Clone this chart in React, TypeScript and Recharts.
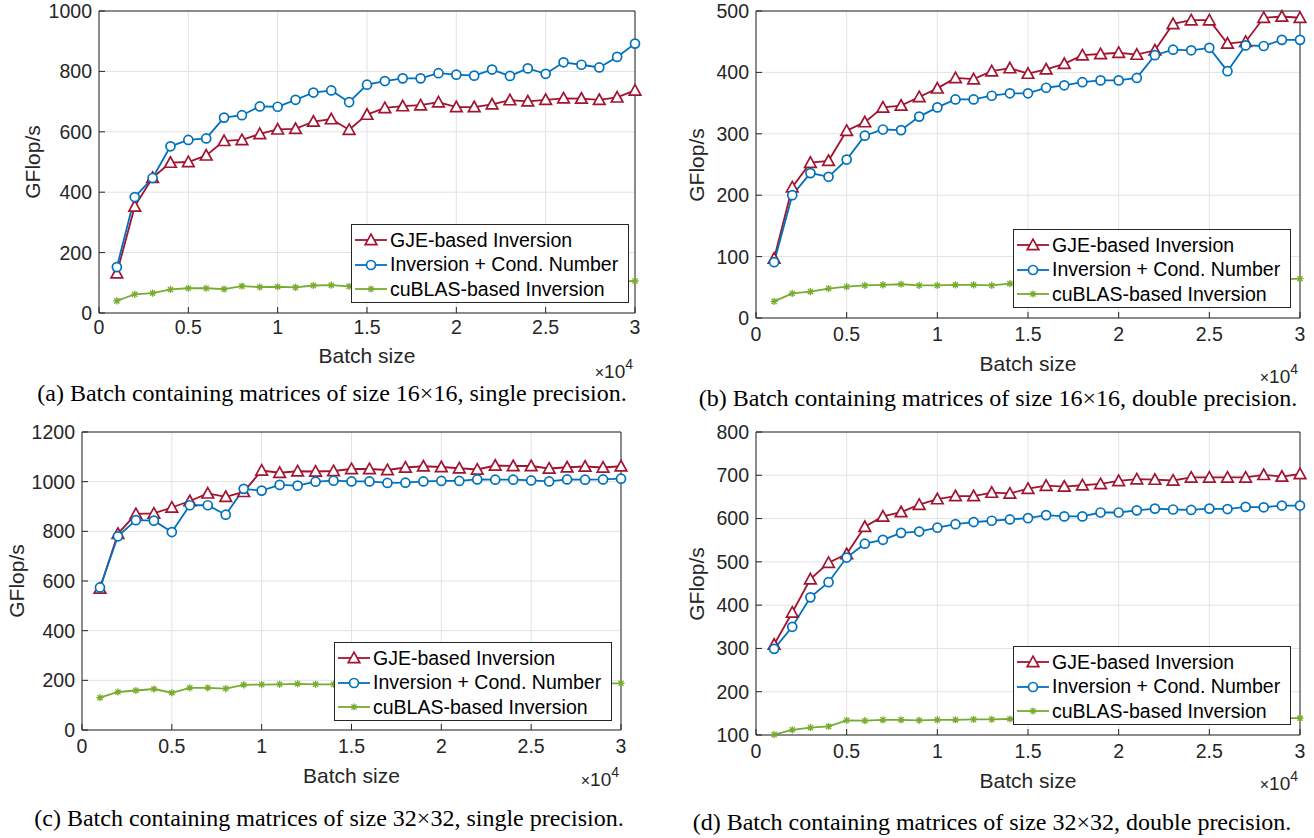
import React from 'react';
import { LineChart, Line, XAxis, YAxis, CartesianGrid, Legend } from 'recharts';

// ---------- data ----------
const batchSizes = [
  1000, 2000, 3000, 4000, 5000, 6000, 7000, 8000, 9000, 10000,
  11000, 12000, 13000, 14000, 15000, 16000, 17000, 18000, 19000, 20000,
  21000, 22000, 23000, 24000, 25000, 26000, 27000, 28000, 29000, 30000,
];
const xTicks = [0, 5000, 10000, 15000, 20000, 25000, 30000];

// (a) 16x16 single
const gjeA = [132, 353, 448, 498, 500, 522, 570, 573, 593, 608, 610, 634, 642, 607, 657, 679, 685, 688, 698, 682, 682, 691, 705, 701, 706, 711, 710, 706, 714, 737];
const condA = [152, 384, 447, 552, 573, 578, 647, 655, 684, 683, 706, 730, 737, 698, 756, 768, 777, 777, 794, 789, 786, 806, 785, 810, 792, 830, 822, 813, 848, 892];
const cublasA = [40, 62, 66, 78, 82, 82, 79, 89, 86, 87, 85, 91, 92, 88, 90, 91, 92, 93, 93, 94, 95, 96, 97, 98, 99, 100, 101, 102, 103, 106];
const yTicksA = [0, 200, 400, 600, 800, 1000];

// (b) 16x16 double
const gjeB = [97, 213, 253, 256, 305, 319, 343, 346, 360, 374, 391, 389, 402, 407, 398, 405, 414, 428, 430, 432, 429, 436, 479, 485, 485, 447, 450, 489, 491, 489];
const condB = [91, 200, 236, 230, 258, 297, 307, 306, 328, 343, 356, 356, 362, 366, 366, 375, 379, 384, 387, 387, 391, 428, 437, 436, 440, 402, 444, 443, 453, 453];
const cublasB = [27, 40, 43, 48, 51, 53, 54, 55, 53, 53, 54, 54, 53, 56, 56, 57, 57, 58, 58, 59, 59, 60, 60, 61, 61, 62, 62, 63, 63, 64];
const yTicksB = [0, 100, 200, 300, 400, 500];

// (c) 32x32 single
const gjeC = [570, 790, 870, 872, 896, 922, 953, 939, 959, 1045, 1036, 1042, 1041, 1043, 1051, 1051, 1047, 1057, 1062, 1059, 1054, 1049, 1065, 1063, 1063, 1053, 1058, 1061, 1057, 1062];
const condC = [574, 780, 845, 843, 797, 905, 905, 867, 971, 964, 987, 984, 1000, 1004, 1001, 1001, 995, 996, 1001, 1003, 1003, 1009, 1008, 1008, 1005, 1001, 1009, 1008, 1009, 1012];
const cublasC = [130, 153, 159, 165, 150, 170, 170, 167, 182, 183, 184, 186, 184, 184, 185, 185, 186, 186, 186, 187, 187, 187, 187, 188, 188, 188, 188, 188, 188, 188];
const yTicksC = [0, 200, 400, 600, 800, 1000, 1200];

// (d) 32x32 double
const gjeD = [309, 383, 460, 498, 518, 581, 605, 615, 632, 645, 652, 652, 660, 658, 669, 676, 674, 677, 680, 687, 691, 690, 688, 695, 695, 695, 695, 701, 697, 703];
const condD = [299, 350, 418, 453, 510, 542, 551, 567, 570, 579, 587, 592, 595, 598, 601, 608, 605, 605, 614, 614, 619, 623, 621, 620, 623, 622, 627, 626, 630, 630];
const cublasD = [101, 112, 117, 120, 134, 133, 135, 135, 134, 135, 135, 136, 136, 137, 137, 137, 137, 138, 138, 138, 138, 138, 138, 139, 139, 139, 139, 139, 139, 139];
const yTicksD = [100, 200, 300, 400, 500, 600, 700, 800];

const seriesNames = ['GJE-based Inversion', 'Inversion + Cond. Number', 'cuBLAS-based Inversion'];
const captions = [
  '(a) Batch containing matrices of size 16\u00d716, single precision.',
  '(b) Batch containing matrices of size 16\u00d716, double precision.',
  '(c) Batch containing matrices of size 32\u00d732, single precision.',
  '(d) Batch containing matrices of size 32\u00d732, double precision.',
];
const yAxisTitle = 'GFlop/s';
const xAxisTitle = 'Batch size';

// ---------- styles ----------
const W = 1314;
const H = 838;
const YW = 60;
const XH = 40;
const AX = '#262626';
const GRID = '#e2e2e2';
const SANS = 'Liberation Sans, Arial, Helvetica, sans-serif';
const SERIF = 'Liberation Serif, Times New Roman, serif';
const COLORS = { gje: '#A2142F', cond: '#0072BD', cublas: '#77AC30' };
const LW = 278;
const LH = 79;

const panels = [
  { g: gjeA, c: condA, u: cublasA, yTicks: yTicksA, caption: captions[0],
    plot: { l: 99, t: 11, r: 635, b: 313 }, legend: { l: 351, t: 224 },
    yLabelX: 32, xLabelY: 355, xTickGap: 14, capX: 332, capY: 393, expY: 372 },
  { g: gjeB, c: condB, u: cublasB, yTicks: yTicksB, caption: captions[1],
    plot: { l: 756, t: 11, r: 1300, b: 318 }, legend: { l: 1013, t: 229 },
    yLabelX: 696, xLabelY: 363, xTickGap: 16, capX: 998, capY: 398, expY: 377 },
  { g: gjeC, c: condC, u: cublasC, yTicks: yTicksC, caption: captions[2],
    plot: { l: 82, t: 432, r: 621, b: 730 }, legend: { l: 334, t: 642 },
    yLabelX: 16, xLabelY: 775, xTickGap: 16, capX: 329, capY: 818, expY: 780 },
  { g: gjeD, c: condD, u: cublasD, yTicks: yTicksD, caption: captions[3],
    plot: { l: 756, t: 432, r: 1300, b: 735 }, legend: { l: 1013, t: 646 },
    yLabelX: 696, xLabelY: 780, xTickGap: 16, capX: 992, capY: 822, expY: 784 },
];

// ---------- markers ----------
const triPath = (cx: number, cy: number) => {
  const s = 5.8;
  return `M${cx},${cy - s} L${cx + s},${cy + s * 0.8} L${cx - s},${cy + s * 0.8} Z`;
};
const starPath = (cx: number, cy: number) => {
  const s = 3.6;
  const k = 2.6;
  return `M${cx - s},${cy} L${cx + s},${cy} M${cx},${cy - s} L${cx},${cy + s} M${cx - k},${cy - k} L${cx + k},${cy + k} M${cx - k},${cy + k} L${cx + k},${cy - k}`;
};

const TriDot = (props: any) => {
  const { cx, cy, index } = props;
  if (cx == null || cy == null) return <g key={`t${index}`} />;
  return <path key={`t${index}`} d={triPath(cx, cy)} fill="#fff" stroke={COLORS.gje} strokeWidth={1.7} />;
};
const CircDot = (props: any) => {
  const { cx, cy, index } = props;
  if (cx == null || cy == null) return <g key={`c${index}`} />;
  return <circle key={`c${index}`} cx={cx} cy={cy} r={4.5} fill="#fff" stroke={COLORS.cond} strokeWidth={1.7} />;
};
const StarDot = (props: any) => {
  const { cx, cy, index } = props;
  if (cx == null || cy == null) return <g key={`s${index}`} />;
  return <path key={`s${index}`} d={starPath(cx, cy)} fill="none" stroke={COLORS.cublas} strokeWidth={1.3} />;
};

const legendItems = [
  { name: seriesNames[0], color: COLORS.gje, kind: 'tri' },
  { name: seriesNames[1], color: COLORS.cond, kind: 'circ' },
  { name: seriesNames[2], color: COLORS.cublas, kind: 'star' },
];

const LegendBox = () => (
  <div
    style={{
      width: LW,
      height: LH,
      boxSizing: 'border-box',
      border: `1px solid ${AX}`,
      background: '#fff',
      paddingTop: 3,
    }}
  >
    {legendItems.map((it) => (
      <div key={it.name} style={{ display: 'flex', alignItems: 'center', height: 24.5 }}>
        <svg width={38} height={16} style={{ flex: 'none' }}>
          <line x1={3} x2={35} y1={8} y2={8} stroke={it.color} strokeWidth={1.8} />
          {it.kind === 'tri' && <path d={triPath(19, 8)} fill="#fff" stroke={it.color} strokeWidth={1.7} />}
          {it.kind === 'circ' && <circle cx={19} cy={8} r={4.5} fill="#fff" stroke={it.color} strokeWidth={1.7} />}
          {it.kind === 'star' && <path d={starPath(19, 8)} fill="none" stroke={it.color} strokeWidth={1.3} />}
        </svg>
        <span style={{ fontFamily: SANS, fontSize: 19.5, color: '#000', whiteSpace: 'nowrap', lineHeight: 1 }}>
          {it.name}
        </span>
      </div>
    ))}
  </div>
);

const fmtX = (v: number) => String(v / 10000);

const Panel = ({ p }: { p: any }) => {
  const rows = batchSizes.map((x, i) => ({ x, gje: p.g[i], cond: p.c[i], cublas: p.u[i] }));
  const { plot } = p;
  const yDomain = [p.yTicks[0], p.yTicks[p.yTicks.length - 1]];
  const tickFont = { fill: AX, fontSize: 19.5, fontFamily: SANS };
  return (
    <div style={{ position: 'absolute', left: 0, top: 0, width: W, height: H }}>
      <LineChart
        width={W}
        height={H}
        data={rows}
        margin={{ top: plot.t - 1, left: plot.l - YW, right: W - plot.r - 1, bottom: H - plot.b - XH }}
      >
        <CartesianGrid stroke={GRID} strokeWidth={1} />
        <XAxis
          xAxisId={0}
          dataKey="x"
          type="number"
          domain={[0, 30000]}
          ticks={xTicks}
          interval={0}
          tickFormatter={fmtX}
          stroke={AX}
          tick={tickFont}
          tickSize={-6}
          tickMargin={p.xTickGap - 1}
          height={XH}
        />
        <XAxis
          xAxisId="top"
          orientation="top"
          dataKey="x"
          type="number"
          domain={[0, 30000]}
          ticks={xTicks}
          interval={0}
          stroke={AX}
          tick={false}
          tickSize={-6}
          height={1}
        />
        <YAxis
          yAxisId={0}
          type="number"
          domain={yDomain}
          ticks={p.yTicks}
          interval={0}
          stroke={AX}
          tick={tickFont}
          tickSize={-6}
          tickMargin={13}
          width={YW}
        />
        <YAxis
          yAxisId="right"
          orientation="right"
          type="number"
          domain={yDomain}
          ticks={p.yTicks}
          interval={0}
          stroke={AX}
          tick={false}
          tickSize={-6}
          width={1}
        />
        <Line
          dataKey="gje"
          name={seriesNames[0]}
          stroke={COLORS.gje}
          strokeWidth={1.8}
          dot={TriDot}
          activeDot={false}
          isAnimationActive={false}
        />
        <Line
          dataKey="cond"
          name={seriesNames[1]}
          stroke={COLORS.cond}
          strokeWidth={1.8}
          dot={CircDot}
          activeDot={false}
          isAnimationActive={false}
        />
        <Line
          dataKey="cublas"
          name={seriesNames[2]}
          stroke={COLORS.cublas}
          strokeWidth={1.8}
          dot={StarDot}
          activeDot={false}
          isAnimationActive={false}
        />
        <Legend
          layout="vertical"
          align="center"
          verticalAlign="middle"
          content={() => <LegendBox />}
          wrapperStyle={{ left: p.legend.l, top: p.legend.t, width: LW, height: LH }}
        />
      </LineChart>
    </div>
  );
};

const TextAt = ({ x, y, children, style, rotate }: any) => (
  <div
    style={{
      position: 'absolute',
      left: x,
      top: y,
      transform: `translate(-50%, -50%)${rotate ? ` rotate(${rotate}deg)` : ''}`,
      whiteSpace: 'nowrap',
      lineHeight: 1,
      ...style,
    }}
  >
    {children}
  </div>
);

export default function App() {
  return (
    <div style={{ position: 'absolute', left: 0, top: 0, width: W, height: H, background: '#fff', overflow: 'hidden' }}>
      {panels.map((p, i) => (
        <Panel key={i} p={p} />
      ))}
      {panels.map((p, i) => (
        <React.Fragment key={`t${i}`}>
          <TextAt x={p.yLabelX} y={(p.plot.t + p.plot.b) / 2} rotate={-90} style={{ fontFamily: SANS, fontSize: 21, color: AX }}>
            {yAxisTitle}
          </TextAt>
          <TextAt x={(p.plot.l + p.plot.r) / 2} y={p.xLabelY} style={{ fontFamily: SANS, fontSize: 21, color: AX }}>
            {xAxisTitle}
          </TextAt>
          <div
            style={{
              position: 'absolute',
              right: W - p.plot.r + 2,
              top: p.expY - 10,
              fontFamily: SANS,
              fontSize: 19,
              lineHeight: 1,
              color: AX,
              whiteSpace: 'nowrap',
            }}
          >
            <span style={{ fontSize: 16 }}>{'\u00d7'}</span>
            {'10'}
            <span style={{ position: 'relative', top: -9, fontSize: 14 }}>4</span>
          </div>
          <TextAt x={p.capX} y={p.capY} style={{ fontFamily: SERIF, fontSize: 24, color: '#000' }}>
            {p.caption}
          </TextAt>
        </React.Fragment>
      ))}
    </div>
  );
}
